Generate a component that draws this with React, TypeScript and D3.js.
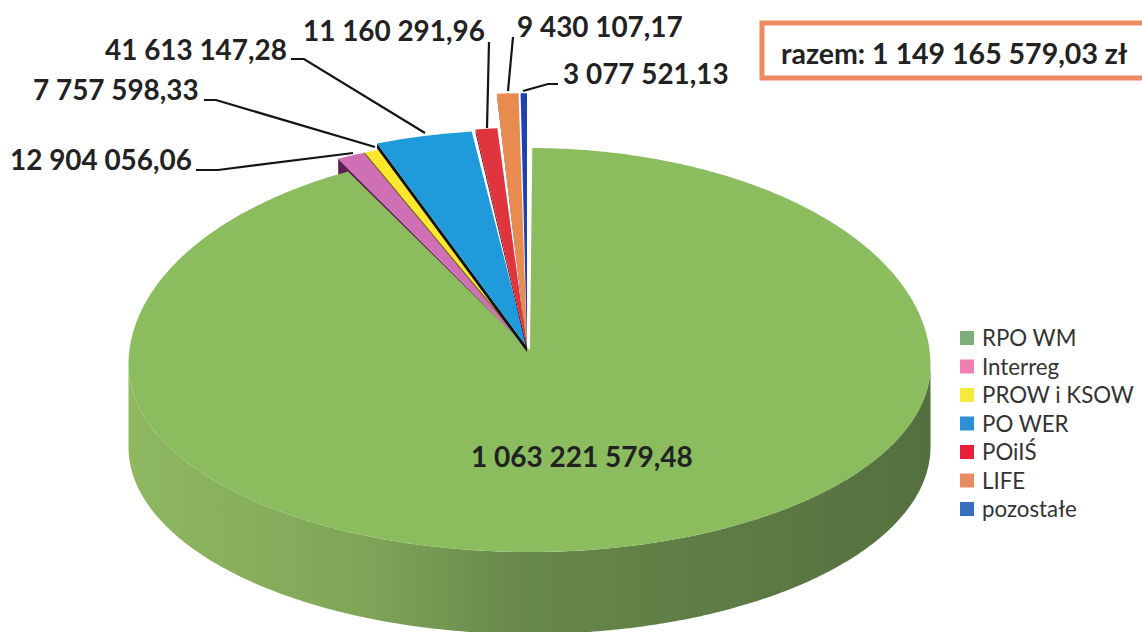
// App.tsx
import React from 'react';
import * as d3 from 'd3';

const categories = ['RPO WM', 'Interreg', 'PROW i KSOW', 'PO WER', 'POiIŚ', 'LIFE', 'pozostałe'];
const values = [1063221579.48, 12904056.06, 7757598.33, 41613147.28, 11160291.96, 9430107.17, 3077521.13];
const totalValue = 1149165579.03;

// drawing settings, one entry per category
const topColors = ['#8bbd5f', '#cf70b6', '#fde72c', '#1f9bdb', '#e0343f', '#e98a4f', '#1f42b2'];
const wallColors = ['#6f9050', '#5a2050', '#7a6a10', '#101418', '#5a1018', '#5a2a10', '#101a50'];
const legendColors = ['#7fae7d', '#ef80b0', '#f6ea3e', '#2f90d8', '#e8203c', '#e88a62', '#3a6fc0'];
const outerScale = [1, 1.04, 1.04, 1.07, 1.08, 1.25, 1.25];
const wallDepth = [0, 17, 2, 5, 4, 4, 0];
const startInset = [0, 0, 0, 0, 0.6, 0.5, 0.25]; // degrees, small gaps between slices

// leader lines and label anchors, index matches categories (first label sits on the pie)
const labelPos: [number, number][] = [[471, 467], [10, 170], [33, 100], [105, 60], [303, 41], [517, 37], [563, 84]];
const leaders: [number, number][][] = [
  [],
  [[196, 170], [218, 170], [353, 153]],
  [[204, 100], [216, 100], [375, 147]],
  [[291, 59], [304, 59], [425, 133]],
  [[489, 42], [487, 128]],
  [[513, 37], [508, 91]],
  [[558, 84], [548, 84], [523, 91]],
];

const width = 1142;
const height = 632;

// the pie is drawn in perspective: widest below the apex
const cx = 529.5;
const rx = 401;
const widestY = 365;
const ryUp = 217;
const ryDown = 187;
const depth = 82;
const apexGreen: [number, number] = [530, 350];
const apex: [number, number] = [527, 347];
const ryExploded = 203;

const locale = d3.formatLocale({ decimal: ',', thousands: ' ', grouping: [3], currency: ['', ' zł'] });
const fmt = locale.format(',.2f');

const rim = (t: number): [number, number] => {
  const c = Math.cos(t);
  return [cx + rx * Math.sin(t), widestY - (c > 0 ? ryUp : ryDown) * c];
};

const App = () => {
  const arcs = d3.pie<number>().sort(null).startAngle(0).endAngle(2 * Math.PI)(values);
  const line = d3.line();
  const sliceStart = (i: number) => arcs[i].startAngle + (startInset[i] * Math.PI) / 180;

  // big slice top
  const pad = (0.4 * Math.PI) / 180;
  const greenAngles = d3.range(arcs[0].startAngle + pad, arcs[0].endAngle, 0.01).concat(arcs[0].endAngle);
  const greenTop = line([apexGreen, ...greenAngles.map(rim)]) + 'Z';

  // big slice side wall, lower half only
  const lower = d3.range(Math.PI / 2, (3 * Math.PI) / 2, 0.01).concat((3 * Math.PI) / 2).map(rim);
  const greenWall =
    line([...lower, ...lower.slice().reverse().map(([x, y]) => [x, y + depth] as [number, number])]) + 'Z';

  const sliceArc = d3.arc<any>().innerRadius(0);
  const sliceWall = (i: number) => {
    const a = sliceStart(i);
    const f = outerScale[i];
    const p: [number, number] = [apex[0] + f * rx * Math.sin(a), apex[1] - f * ryExploded * Math.cos(a)];
    const d = wallDepth[i];
    if (!d) return null;
    return (
      <path
        d={line([apex, p, [p[0], p[1] + d], [apex[0], apex[1] + d]]) + 'Z'}
        fill={wallColors[i]}
      />
    );
  };

  const legendY = d3.scalePoint<string>().domain(categories).range([338, 509]);

  return (
    <svg width={width} height={height} style={{ position: 'absolute', left: 0, top: 0, background: '#fff' }}>
      <defs>
        <linearGradient id="wall" x1="0" x2="1" y1="0" y2="0">
          <stop offset="0" stopColor="#8fb861" />
          <stop offset="0.3" stopColor="#7fa458" />
          <stop offset="0.5" stopColor="#66874a" />
          <stop offset="1" stopColor="#55703f" />
        </linearGradient>
      </defs>

      {/* first slice wall goes under the big slice */}
      {sliceWall(1)}

      <path d={greenWall} fill="url(#wall)" />
      <path d={greenTop} fill={topColors[0]} />

      {arcs.slice(1).map((a, k) => {
        const i = k + 1;
        return (
          <g key={categories[i]}>
            {i > 1 && sliceWall(i)}
            <path
              d={sliceArc({ ...a, startAngle: sliceStart(i), outerRadius: outerScale[i] }) as string}
              transform={`translate(${apex[0]},${apex[1]}) scale(${rx},${ryExploded})`}
              fill={topColors[i]}
            />
          </g>
        );
      })}

      {leaders.map((l, i) =>
        l.length ? <path key={i} d={line(l) as string} fill="none" stroke="#141414" strokeWidth={2.2} /> : null
      )}

      <g fontFamily="Lato" fontWeight={700} fill="#222">
        {values.map((v, i) => (
          <text key={categories[i]} x={labelPos[i][0]} y={labelPos[i][1]} fontSize={i === 0 ? 28 : 27.9}>
            {fmt(v)}
          </text>
        ))}
      </g>

      <rect x={762} y={23} width={390} height={55} fill="#fff" stroke="#ec8b60" strokeWidth={5} />
      <text x={781} y={64} fontFamily="Lato" fontWeight={700} fontSize={28.5} fill="#222">
        {`razem: ${fmt(totalValue)} zł`}
      </text>

      <g fontFamily="Lato" fontSize={22.3} fill="#333">
        {categories.map((c, i) => (
          <g key={c}>
            <rect x={960} y={(legendY(c) as number) - 7} width={14} height={14} fill={legendColors[i]} />
            <text x={982} y={(legendY(c) as number) + 8}>
              {c}
            </text>
          </g>
        ))}
      </g>
    </svg>
  );
};

export default App;
